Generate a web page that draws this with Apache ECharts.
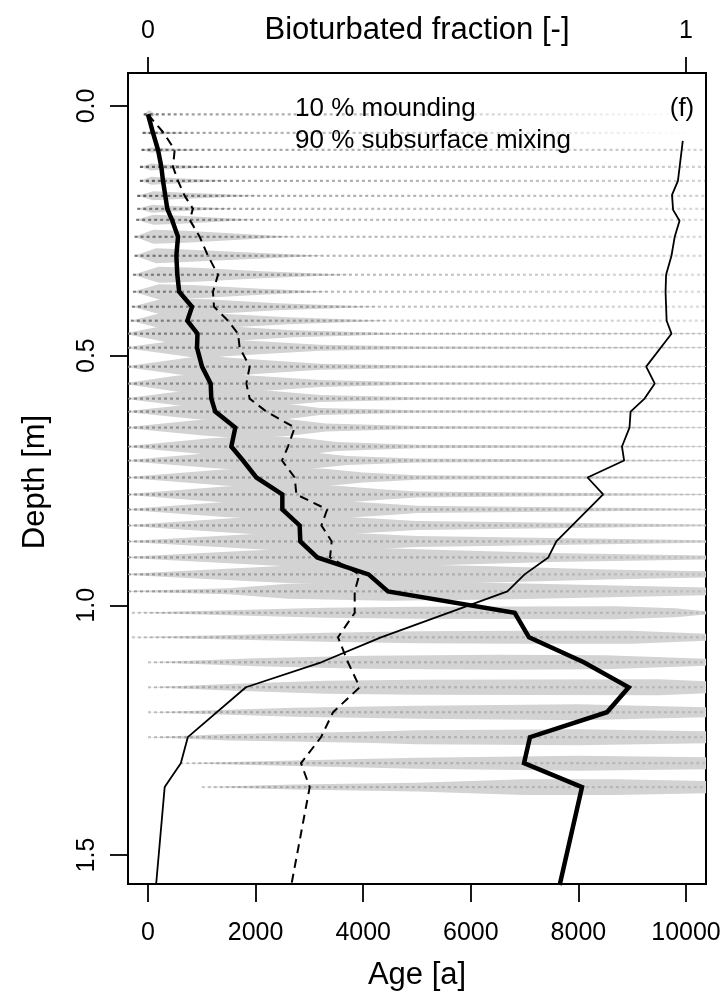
<!DOCTYPE html>
<html>
<head>
<meta charset="utf-8">
<script src="https://cdn.jsdelivr.net/npm/echarts@6/dist/echarts.min.js"></script>
<style>
  html, body { margin: 0; padding: 0; background: #fff; }
  #chart { width: 725px; height: 1002px; }
</style>
</head>
<body>
<div id="chart"></div>
<script>
// ---- data -------------------------------------------------------------

// depth of each sampled layer [m]
const levelDepth = [0.017, 0.054, 0.088, 0.122, 0.150, 0.180, 0.206, 0.228, 0.262, 0.300,
  0.338, 0.372, 0.402, 0.430, 0.456, 0.484, 0.522, 0.556, 0.586, 0.612,
  0.644, 0.682, 0.710, 0.744, 0.778, 0.808, 0.840, 0.872, 0.904, 0.938,
  0.972, 1.015, 1.064, 1.114, 1.164, 1.214, 1.264, 1.316, 1.364];

// depths of the age profiles (layers plus the lower end of the core) [m]
const profileDepth = levelDepth.concat([1.56]);

// median particle age per layer [a] (thick line)
const medianAge = [0, 93, 186, 248, 279, 322, 359, 446, 558, 527,
  545, 580, 818, 731, 920, 911, 1004, 1165, 1177, 1251,
  1623, 1549, 1766, 2014, 2497, 2497, 2819, 2831, 3147, 4100,
  4460, 6816, 7082, 8100, 8935, 8531, 7100, 6989, 8067, 7652];

// mean particle age per layer [a] (dashed line)
const meanAge = [0, 292, 496, 465, 558, 682, 836, 775, 961, 1115,
  1301, 1208, 1227, 1487, 1673, 1704, 1890, 1828, 1890, 2200,
  2727, 2602, 2490, 2727, 2758, 3330, 3224, 3414, 3383, 3930,
  3842, 3842, 3532, 3717, 3935, 3439, 3216, 2844, 3006, 2664];

// bioturbated fraction (top axis, thin line)
const fractionDepth = [0.070, 0.150, 0.178, 0.208, 0.230, 0.262, 0.300, 0.338, 0.372, 0.402,
  0.430, 0.456, 0.522, 0.556, 0.586, 0.612, 0.644, 0.682, 0.710, 0.744,
  0.778, 0.872, 0.904, 0.938, 0.972, 1.064, 1.114, 1.164, 1.264, 1.316,
  1.364, 1.560];
const fraction = [0.994, 0.985, 0.974, 0.976, 0.988, 0.979, 0.973, 0.963, 0.962, 0.963,
  0.964, 0.973, 0.926, 0.942, 0.923, 0.897, 0.895, 0.881, 0.885, 0.817,
  0.846, 0.759, 0.744, 0.700, 0.668, 0.433, 0.322, 0.182, 0.074, 0.061,
  0.031, 0.015];

// age-density outline of each layer: [age, half thickness in m]
const violinProfile = [
  [[-80, 0], [20, 0.009], [150, 0]],
  [[-100, 0], [60, 0.0035], [300, 0.0025], [800, 0]],
  [[-120, 0], [60, 0.005], [300, 0.0035], [1000, 0]],
  [[-150, 0], [60, 0.007], [300, 0.005], [1300, 0]],
  [[-150, 0], [60, 0.008], [400, 0.006], [1500, 0]],
  [[-200, 0], [100, 0.009], [500, 0.007], [2100, 0]],
  [[-200, 0], [80, 0.008], [400, 0.006], [1600, 0]],
  [[-220, 0], [100, 0.010], [600, 0.008], [2000, 0]],
  [[-250, 0], [100, 0.014], [700, 0.012], [1700, 0.006], [2700, 0]],
  [[-250, 0], [150, 0.015], [800, 0.012], [2000, 0.006], [3300, 0]],
  [[-280, 0], [200, 0.016], [900, 0.014], [2100, 0.007], [3800, 0]],
  [[-280, 0], [200, 0.015], [900, 0.013], [2100, 0.006], [3400, 0]],
  [[-300, 0], [300, 0.017], [1100, 0.015], [2400, 0.007], [4300, 0]],
  [[-320, 0], [300, 0.017], [1200, 0.015], [2600, 0.007], [4500, 0]],
  [[-420, 0.0008], [350, 0.017], [1300, 0.016], [2700, 0.007], [4600, 0.0015], [10600, 0.0006]],
  [[-420, 0.0008], [620, 0.016], [1000, 0.022], [1425, 0.017], [3200, 0.006], [5000, 0.0025], [10600, 0.0006]],
  [[-420, 0.0008], [680, 0.017], [1100, 0.023], [1515, 0.018], [3200, 0.006], [5000, 0.0025], [10600, 0.0006]],
  [[-420, 0.0008], [520, 0.016], [1200, 0.022], [1830, 0.017], [3200, 0.007], [5000, 0.0025], [10600, 0.0006]],
  [[-420, 0.0008], [650, 0.015], [1400, 0.021], [2200, 0.016], [3200, 0.007], [5000, 0.0025], [10600, 0.0006]],
  [[-420, 0.0008], [870, 0.015], [1700, 0.021], [2530, 0.016], [3200, 0.007], [5000, 0.0025], [10600, 0.0006]],
  [[-420, 0.0008], [1020, 0.016], [1800, 0.022], [2600, 0.017], [3300, 0.008], [5000, 0.003], [10600, 0.0006]],
  [[-420, 0.0008], [1115, 0.016], [2000, 0.022], [2880, 0.017], [3500, 0.009], [5000, 0.0035], [10600, 0.0006]],
  [[-420, 0.0008], [1180, 0.015], [2100, 0.021], [3070, 0.016], [3700, 0.009], [5000, 0.0038], [10600, 0.0006]],
  [[-420, 0.0008], [1400, 0.016], [2400, 0.022], [3340, 0.017], [4000, 0.010], [5000, 0.0045], [10600, 0.0008]],
  [[-420, 0.0008], [1425, 0.016], [2500, 0.022], [3565, 0.017], [4400, 0.010], [5000, 0.006], [10600, 0.0009]],
  [[-420, 0.0008], [1425, 0.015], [2600, 0.021], [3735, 0.016], [4500, 0.011], [5000, 0.0072], [10600, 0.0011]],
  [[-420, 0.0008], [1770, 0.016], [2700, 0.022], [3720, 0.017], [5000, 0.009], [10600, 0.0015]],
  [[-420, 0.0008], [2140, 0.016], [3000, 0.022], [3810, 0.017], [5000, 0.011], [10600, 0.0022]],
  [[-420, 0.0008], [2300, 0.016], [3500, 0.022], [4835, 0.017], [7500, 0.009], [10600, 0.0036]],
  [[-420, 0.0008], [2480, 0.017], [4000, 0.022], [6225, 0.017], [8500, 0.010], [10600, 0.0058]],
  [[-420, 0.0008], [1500, 0.006], [2600, 0.015], [4500, 0.019], [6780, 0.016], [10600, 0.0072]],
  [[-300, 0], [1500, 0.005], [3300, 0.010], [5000, 0.012], [8700, 0.013], [9800, 0.009], [10400, 0.003], [10600, 0]],
  [[-300, 0], [1500, 0.0045], [3300, 0.009], [5000, 0.012], [7000, 0.013], [9000, 0.013], [10400, 0.007], [10700, 0]],
  [[0, 0], [2000, 0.008], [4000, 0.013], [6500, 0.015], [8500, 0.014], [10400, 0.007], [10700, 0]],
  [[0, 0], [1500, 0.0065], [3300, 0.013], [5000, 0.015], [9500, 0.016], [10400, 0.012], [10800, 0]],
  [[0, 0], [2700, 0.009], [5000, 0.013], [8000, 0.016], [10400, 0.010], [10800, 0]],
  [[0, 0], [1500, 0.0065], [4000, 0.011], [5000, 0.014], [8000, 0.016], [10400, 0.012], [10900, 0]],
  [[600, 0], [2700, 0.0055], [5000, 0.011], [8000, 0.015], [10400, 0.012], [10900, 0]],
  [[1000, 0], [2700, 0.005], [5000, 0.009], [7000, 0.016], [8700, 0.016], [10400, 0.012], [10900, 0]]
];

// age up to which particle ages cluster densely, and their shade
const dotReach = [700, 1000, 1500, 2000, 2000, 2000, 2500, 2500, 2500, 2500,
  3000, 3000, 3000, 3000, 3000, 4000, 4000, 4000, 4000, 4000,
  5000, 5000, 5000, 5000, 5000, 5000, 6000, 6000, 6000, 6000,
  6000, 10400, 10400, 10400, 10400, 10400, 10400, 10400, 10400];
const dotShade = [0.75, 0.7, 0.7, 0.7, 0.7, 0.7, 0.6, 0.6, 0.6, 0.6,
  0.55, 0.55, 0.55, 0.55, 0.55, 0.45, 0.45, 0.45, 0.45, 0.45,
  0.4, 0.4, 0.4, 0.4, 0.4, 0.4, 0.35, 0.35, 0.35, 0.35,
  0.35, 0.25, 0.25, 0.25, 0.25, 0.25, 0.25, 0.25, 0.25];

// axis ticks
const ageTicks = [0, 2000, 4000, 6000, 8000, 10000];
const depthTicks = [0, 0.5, 1.0, 1.5];
const fractionTicks = [0, 1];

// ---- chart ------------------------------------------------------------

const AGE_MIN = -371.7, AGE_MAX = 10371.7;
const DEPTH_MIN = -0.066, DEPTH_MAX = 1.558;
const FRAC_MIN = -0.03717, FRAC_MAX = 1.03717;
const FONT = '"Liberation Sans", Arial, Helvetica, sans-serif';

const chart = echarts.init(document.getElementById('chart'), null, { renderer: 'canvas' });

function clipRect(params) {
  const cs = params.coordSys;
  return { type: 'rect', shape: { x: cs.x, y: cs.y, width: cs.width, height: cs.height } };
}

function renderViolin(params, api) {
  const i = api.value(2);
  const depth = api.value(1);
  const prof = violinProfile[i];
  const upper = prof.map(p => api.coord([p[0], depth - p[1]]));
  const lower = prof.slice().reverse().map(p => api.coord([p[0], depth + p[1]]));
  return {
    type: 'group',
    clipPath: clipRect(params),
    children: [{
      type: 'polygon',
      shape: { points: upper.concat(lower) },
      style: { fill: '#d3d3d3' }
    }]
  };
}

function renderDots(params, api) {
  const i = api.value(2);
  const depth = api.value(1);
  const cs = params.coordSys;
  const start = Math.max(violinProfile[i][0][0], AGE_MIN);
  const p0 = api.coord([start, depth]);
  const pr = api.coord([dotReach[i], depth]);
  const x1 = cs.x + cs.width;
  const a = dotShade[i];
  const f = Math.min(0.99, Math.max(0.01, (pr[0] - p0[0]) / (x1 - p0[0])));
  const tail = i < 2 ? 0 : a * 0.3;
  const grad = new echarts.graphic.LinearGradient(p0[0], 0, x1, 0, [
    { offset: 0, color: 'rgba(40,40,40,' + a + ')' },
    { offset: f, color: 'rgba(40,40,40,' + (a * 0.6) + ')' },
    { offset: 1, color: 'rgba(40,40,40,' + tail + ')' }
  ], true);
  return {
    type: 'group',
    clipPath: clipRect(params),
    children: [{
      type: 'line',
      shape: { x1: p0[0], y1: p0[1], x2: x1, y2: p0[1] },
      style: { stroke: grad, lineWidth: 2.2, lineDash: [3, 3] }
    }]
  };
}

const layerData = levelDepth.map((d, i) => [0, d, i]);

const option = {
  animation: false,
  backgroundColor: '#ffffff',
  grid: {
    left: 128, top: 73, width: 578, height: 811,
    show: true, borderColor: '#000', borderWidth: 2, backgroundColor: 'transparent'
  },
  xAxis: [
    {
      type: 'value', position: 'bottom', min: AGE_MIN, max: AGE_MAX,
      splitLine: { show: false },
      axisLine: { show: false, onZero: false },
      axisTick: { show: true, customValues: ageTicks, length: 18, lineStyle: { color: '#000', width: 1.8 } },
      axisLabel: { customValues: ageTicks, fontSize: 25, fontFamily: FONT, color: '#000', margin: 37,
        formatter: v => String(v) }
    },
    {
      type: 'value', position: 'top', min: FRAC_MIN, max: FRAC_MAX,
      splitLine: { show: false },
      axisLine: { show: false, onZero: false },
      axisTick: { show: true, customValues: fractionTicks, length: 16, lineStyle: { color: '#000', width: 1.8 } },
      axisLabel: { customValues: fractionTicks, fontSize: 25, fontFamily: FONT, color: '#000', margin: 29,
        formatter: v => String(v) }
    }
  ],
  yAxis: [
    {
      type: 'value', inverse: true, position: 'left', min: DEPTH_MIN, max: DEPTH_MAX,
      splitLine: { show: false },
      axisLine: { show: false, onZero: false },
      axisTick: { show: true, customValues: depthTicks, length: 18, lineStyle: { color: '#000', width: 1.8 } },
      axisLabel: {
        customValues: depthTicks, rotate: 90, fontSize: 25, fontFamily: FONT, color: '#000', margin: 28,
        formatter: v => Number(v).toFixed(1)
      }
    }
  ],
  series: [
    {
      type: 'custom', name: 'age distribution', xAxisIndex: 0, yAxisIndex: 0,
      renderItem: renderViolin, data: layerData, encode: { x: 0, y: 1 }, z: 1, silent: true
    },
    {
      type: 'custom', name: 'particles', xAxisIndex: 0, yAxisIndex: 0,
      renderItem: renderDots, data: layerData, encode: { x: 0, y: 1 }, z: 2, silent: true
    },
    {
      type: 'line', name: 'mean age', xAxisIndex: 0, yAxisIndex: 0, z: 3,
      data: profileDepth.map((d, i) => [meanAge[i], d]),
      showSymbol: false, symbol: 'none', clip: true,
      lineStyle: { color: '#000', width: 2, type: [9, 6] }
    },
    {
      type: 'line', name: 'bioturbated fraction', xAxisIndex: 1, yAxisIndex: 0, z: 3,
      data: fractionDepth.map((d, i) => [fraction[i], d]),
      showSymbol: false, symbol: 'none', clip: true,
      lineStyle: { color: '#000', width: 1.8 }
    },
    {
      type: 'line', name: 'median age', xAxisIndex: 0, yAxisIndex: 0, z: 4,
      data: profileDepth.map((d, i) => [medianAge[i], d]),
      showSymbol: false, symbol: 'none', clip: true,
      lineStyle: { color: '#000', width: 4.5, join: 'miter' }
    }
  ],
  graphic: [
    { type: 'text', x: 417, y: 30, style: { text: 'Bioturbated fraction [-]', font: '31px ' + FONT, fill: '#000', textAlign: 'center', textVerticalAlign: 'middle' } },
    { type: 'text', x: 417, y: 975, style: { text: 'Age [a]', font: '31px ' + FONT, fill: '#000', textAlign: 'center', textVerticalAlign: 'middle' } },
    { type: 'text', x: 35, y: 482, rotation: Math.PI / 2, style: { text: 'Depth [m]', font: '31px ' + FONT, fill: '#000', textAlign: 'center', textVerticalAlign: 'middle' } },
    { type: 'text', x: 295, y: 109, z: 10, style: { text: '10 % mounding', font: '26px ' + FONT, fill: '#000', textAlign: 'left', textVerticalAlign: 'middle' } },
    { type: 'text', x: 295, y: 141, z: 10, style: { text: '90 % subsurface mixing', font: '26px ' + FONT, fill: '#000', textAlign: 'left', textVerticalAlign: 'middle' } },
    { type: 'text', x: 682, y: 109, z: 10, style: { text: '(f)', font: '26px ' + FONT, fill: '#000', textAlign: 'center', textVerticalAlign: 'middle' } }
  ]
};

chart.setOption(option);
</script>
</body>
</html>
